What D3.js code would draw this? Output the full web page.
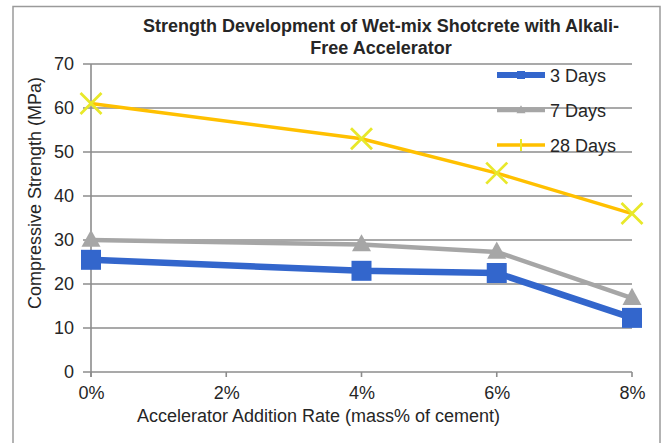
<!DOCTYPE html>
<html>
<head>
<meta charset="utf-8">
<script src="https://cdn.jsdelivr.net/npm/d3@7/dist/d3.min.js"></script>
<style>
  html, body { margin: 0; padding: 0; background: #fff; }
  svg { display: block; }
  text { font-family: "Liberation Sans", Arial, sans-serif; fill: #262626; }
</style>
</head>
<body>
<svg id="chart" width="663" height="443"></svg>
<script>
// ---- data ----
const rates = [0, 4, 6, 8];                 // accelerator addition rate (mass% of cement)
const xTicks = [0, 2, 4, 6, 8];
const xTickLabels = ["0%", "2%", "4%", "6%", "8%"];
const yTicks = [0, 10, 20, 30, 40, 50, 60, 70];
const days3 = [25.5, 23, 22.5, 12.3];
const days7 = [30, 29, 27.3, 16.8];
const days28 = [61, 53, 45.2, 36];
const seriesNames = ["3 Days", "7 Days", "28 Days"];
const titleLines = ["Strength Development of Wet-mix Shotcrete with Alkali-", "Free Accelerator"];
const xTitle = "Accelerator Addition Rate (mass% of cement)";
const yTitle = "Compressive Strength (MPa)";

// ---- layout ----
const svg = d3.select("#chart");
const x = d3.scaleLinear().domain([0, 8]).range([91, 632]);
const y = d3.scaleLinear().domain([0, 70]).range([372, 64]);
const gridColor = "#8c8c8c";

// outer border
svg.append("rect").attr("x", 13).attr("y", 6.5).attr("width", 647).attr("height", 440)
  .attr("fill", "none").attr("stroke", "#9a9a9a").attr("stroke-width", 1.5);

// title
svg.append("g").selectAll("text").data(titleLines).join("text")
  .attr("x", 381).attr("y", (d, i) => 32 + i * 22)
  .attr("text-anchor", "middle").attr("font-size", 18).attr("font-weight", "bold")
  .attr("fill", "#1a1a1a").text(d => d);

// horizontal gridlines (incl. x axis) with left tick stubs
svg.append("g").selectAll("line").data(yTicks).join("line")
  .attr("x1", x(0) - 8).attr("x2", x(8))
  .attr("y1", d => y(d)).attr("y2", d => y(d))
  .attr("stroke", gridColor).attr("stroke-width", 1.6);

// y axis line
svg.append("line").attr("x1", x(0)).attr("x2", x(0)).attr("y1", y(70)).attr("y2", y(0) + 5)
  .attr("stroke", gridColor).attr("stroke-width", 1.6);

// x tick marks
svg.append("g").selectAll("line").data(xTicks).join("line")
  .attr("x1", d => x(d)).attr("x2", d => x(d)).attr("y1", y(0)).attr("y2", y(0) + 5)
  .attr("stroke", gridColor).attr("stroke-width", 1.6);

// y tick labels
const yAxis = d3.axisLeft(y).tickValues(yTicks).tickSize(0).tickPadding(0);
const gy = svg.append("g").attr("transform", `translate(${x(0) - 17},0)`).call(yAxis);
gy.select(".domain").remove();
gy.selectAll("text").attr("font-size", 18).attr("fill", "#262626")
  .style("font-family", '"Liberation Sans", Arial, sans-serif');

// x tick labels
const xAxis = d3.axisBottom(x).tickValues(xTicks).tickFormat((d, i) => xTickLabels[i]).tickSize(0).tickPadding(0);
const gx = svg.append("g").attr("transform", `translate(0,${y(0) + 14})`).call(xAxis);
gx.select(".domain").remove();
gx.selectAll("text").attr("font-size", 18).attr("fill", "#262626")
  .style("font-family", '"Liberation Sans", Arial, sans-serif');

// axis titles
svg.append("text").attr("x", (x(0) + x(8)) / 2 - 43).attr("y", 422)
  .attr("text-anchor", "middle").attr("font-size", 18).text(xTitle);
svg.append("text").attr("transform", "translate(41,193) rotate(-90)")
  .attr("text-anchor", "middle").attr("font-size", 18).text(yTitle);

// ---- series ----
const line = d3.line().x((d, i) => x(rates[i])).y(d => y(d));

const colors = { blue: "#3366cc", gray: "#a6a6a6", yellow: "#ffc000", star: "#e8e82a" };

function triangle(g, cx, cy, s, fill) {
  const h = s * 0.9;
  g.append("path").attr("d", `M${cx},${cy - h * 0.6}L${cx + s / 2},${cy + h * 0.4}L${cx - s / 2},${cy + h * 0.4}Z`)
    .attr("fill", fill);
}
function square(g, cx, cy, s, fill) {
  g.append("rect").attr("x", cx - s / 2).attr("y", cy - s / 2).attr("width", s).attr("height", s)
    .attr("fill", fill);
}
function star(g, cx, cy, s, stroke, w) {
  const r = s / 2;
  g.append("path").attr("d", `M${cx - r},${cy - r}L${cx + r},${cy + r}M${cx - r},${cy + r}L${cx + r},${cy - r}`)
    .attr("stroke", stroke).attr("stroke-width", w).attr("fill", "none");
}

const gSeries = svg.append("g");
// 7 days (gray)
gSeries.append("path").datum(days7).attr("d", line).attr("fill", "none")
  .attr("stroke", colors.gray).attr("stroke-width", 4.5).attr("stroke-linejoin", "round");
days7.forEach((v, i) => triangle(gSeries, x(rates[i]), y(v), 19, colors.gray));
// 3 days (blue)
gSeries.append("path").datum(days3).attr("d", line).attr("fill", "none")
  .attr("stroke", colors.blue).attr("stroke-width", 6.5).attr("stroke-linejoin", "round");
days3.forEach((v, i) => square(gSeries, x(rates[i]), y(v), 20, colors.blue));
// 28 days (yellow)
gSeries.append("path").datum(days28).attr("d", line).attr("fill", "none")
  .attr("stroke", colors.yellow).attr("stroke-width", 3.5).attr("stroke-linejoin", "round");
days28.forEach((v, i) => star(gSeries, x(rates[i]), y(v), 21, colors.star, 2.8));

// ---- legend ----
const lg = svg.append("g");
const legendY = [75, 110, 145];
const legendColors = [colors.blue, colors.gray, colors.yellow];
const legendWidths = [6, 4.5, 3.5];
seriesNames.forEach((name, i) => {
  lg.append("line").attr("x1", 497).attr("x2", 545).attr("y1", legendY[i]).attr("y2", legendY[i])
    .attr("stroke", legendColors[i]).attr("stroke-width", legendWidths[i]);
  if (i === 0) square(lg, 521, legendY[i], 8, colors.blue);
  if (i === 1) triangle(lg, 521, legendY[i], 9, colors.gray);
  if (i === 2) {
    lg.append("line").attr("x1", 521).attr("x2", 521).attr("y1", legendY[i] - 6).attr("y2", legendY[i] + 6)
      .attr("stroke", colors.star).attr("stroke-width", 2);
  }
  lg.append("text").attr("x", 550).attr("y", legendY[i] + 6.5).attr("font-size", 18).text(name);
});
</script>
</body>
</html>
